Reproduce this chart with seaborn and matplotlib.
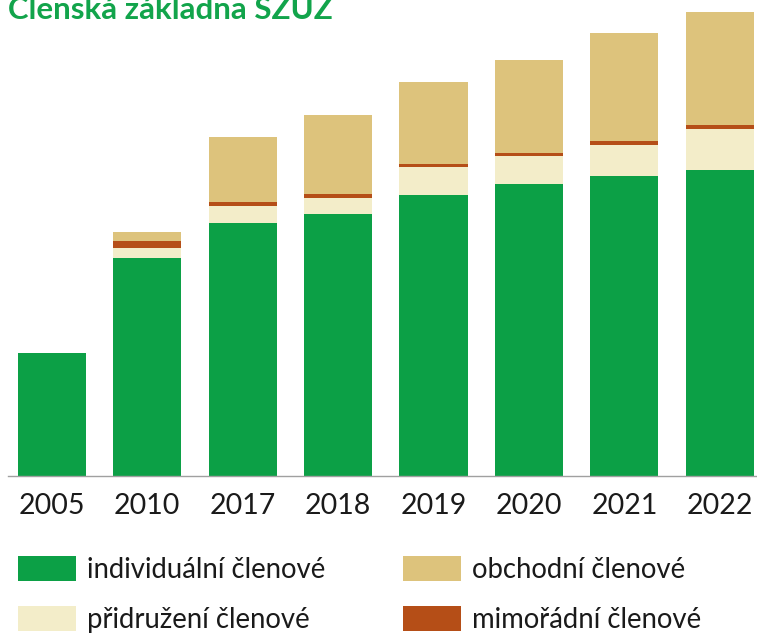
import pandas as pd
import numpy as np
import matplotlib
matplotlib.use('Agg')
import matplotlib.pyplot as plt
import seaborn as sns
from matplotlib.patches import Patch

# Data (bar segment heights bottom -> top)
years = ['2005', '2010', '2017', '2018', '2019', '2020', '2021', '2022']
individualni = [123, 218, 253, 262, 281, 292, 300, 306]
pridruzeni = [0, 10, 17, 16, 28, 28, 31, 41]
mimoradni = [0, 7, 4, 4, 3, 3, 4, 4]
obchodni = [0, 9, 65, 79, 82, 93, 108, 113]

labels = ['individuální členové', 'přidružení členové', 'mimořádní členové', 'obchodní členové']
colors = ['#0ca046', '#f3edc9', '#b54e17', '#ddc37c']

df = pd.DataFrame({
    'rok': years,
    labels[0]: individualni,
    labels[1]: pridruzeni,
    labels[2]: mimoradni,
    labels[3]: obchodni,
})

# cumulative sums to stack with seaborn (draw tallest first)
cum = df[labels].cumsum(axis=1)
cum['rok'] = df['rok']

sns.set_theme(style='white')
plt.rcParams['font.family'] = ['Lato', 'DejaVu Sans']

fig = plt.figure(figsize=(7.57, 6.33), dpi=100)
ax = fig.add_axes([8 / 757, 1 - 476 / 633, 749 / 757, 464 / 633])

for lab, col in zip(labels[::-1], colors[::-1]):
    sns.barplot(data=cum, x='rok', y=lab, color=col, width=0.714,
                saturation=1, linewidth=0, ax=ax, zorder=2)

ax.set_xlim(-0.46, 7.39)
ax.set_ylim(0, 464)
ax.set_xlabel('')
ax.set_ylabel('')
ax.set_yticks([])
for s in ['top', 'left', 'right']:
    ax.spines[s].set_visible(False)
ax.spines['bottom'].set_color('#a0a0a0')
ax.spines['bottom'].set_linewidth(1)
ax.tick_params(axis='x', length=0, pad=12, labelsize=20.5, labelcolor='#1a1a1a')

# title (top is cut off like in the original)
fig.text(8 / 757, 1 - 19 / 633, 'Členská základna SZÚZ', color='#12a44b',
         fontsize=22.5, fontweight='bold', ha='left', va='baseline')

# legend in two blocks
h = {lab: Patch(facecolor=c, edgecolor='none') for lab, c in zip(labels, colors)}
leg_kw = dict(frameon=False, handlelength=2.1, handleheight=1.0,
              handletextpad=0.42, labelspacing=0.85, borderaxespad=0, borderpad=0,
              labelcolor='#1a1a1a', prop={'size': 19.8})
l1 = fig.legend([h[labels[0]], h[labels[1]]], [labels[0], labels[1]],
                loc='upper left', bbox_to_anchor=(18 / 757, 1 - 556 / 633), **leg_kw)
l2 = fig.legend([h[labels[3]], h[labels[2]]], [labels[3], labels[2]],
                loc='upper left', bbox_to_anchor=(403 / 757, 1 - 556 / 633), **leg_kw)

fig.savefig('out.png', dpi=100)
